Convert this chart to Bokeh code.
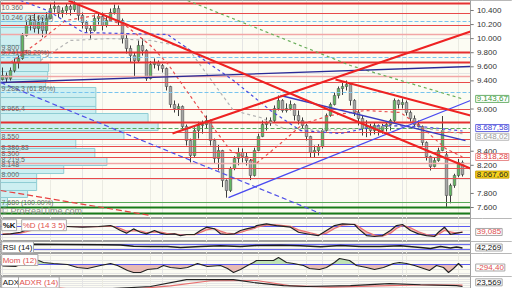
import numpy as np
from bokeh.plotting import figure
from bokeh.models import Range1d, FixedTicker, Label, Grid, ColumnDataSource
from bokeh.layouts import column
from bokeh.embed import file_html
from bokeh.resources import INLINE
from bokeh.core.properties import value

FONT = "Liberation Sans"

# ---------------- price data (daily candles, bar index 0..115) ----------------
opens = [9420, 9476, 9434, 9547, 9661, 9718, 10045, 10187, 10258, 10144,
         10229, 10116, 10286, 10428, 10457, 10372, 10400, 10457, 10414, 10485,
         10329, 10229, 10144, 10116, 10286, 10315, 10187, 10258, 10372, 10428,
         10258, 10002, 9860, 9760, 9689, 9903, 9831, 9434, 9633, 9661,
         9618, 9576, 9320, 9064, 9007, 9036, 8751, 8552, 8339, 8694,
         8766, 8780, 8837, 8552, 8296, 8410, 7984, 7842, 8154, 8296,
         8382, 8325, 8268, 8055, 8410, 8609, 8780, 8808, 8837, 9007,
         9121, 8979, 9007, 9064, 8908, 8837, 8766, 8609, 8382, 8410,
         8467, 8694, 8908, 9064, 9192, 9291, 9320, 9348, 9121, 8950,
         8865, 8723, 8751, 8694, 8766, 8694, 8751, 8780, 8837, 9121,
         9064, 9092, 8950, 8865, 8780, 8751, 8524, 8325, 8183, 8268,
         8410, 8350, 7771, 7913, 8055, 8239]
highs = [9590, 9519, 9590, 9718, 9760, 10080, 10258, 10329, 10357, 10329,
         10300, 10372, 10500, 10528, 10471, 10443, 10500, 10485, 10530, 10500,
         10372, 10258, 10187, 10343, 10357, 10372, 10329, 10428, 10485, 10471,
         10286, 10073, 9903, 9803, 9974, 10002, 9850, 9680, 9718, 9689,
         9640, 9590, 9330, 9121, 9078, 9050, 8780, 8580, 8740, 8820,
         8837, 8908, 8850, 8580, 8490, 8420, 8000, 8180, 8330, 8450,
         8440, 8380, 8290, 8450, 8650, 8837, 8880, 8880, 9050, 9192,
         9140, 9080, 9121, 9080, 8980, 8880, 8790, 8620, 8481, 8500,
         8720, 8936, 9092, 9235, 9320, 9377, 9405, 9350, 9140, 8990,
         8900, 8840, 8790, 8810, 8780, 8790, 8820, 8860, 9150, 9135,
         9150, 9121, 8979, 8908, 8837, 8766, 8540, 8339, 8310, 8450,
         8900, 8400, 7940, 8080, 8290, 8268]
lows = [9405, 9377, 9405, 9519, 9576, 9700, 10030, 10116, 10087, 10060,
        10020, 10060, 10280, 10372, 10300, 10300, 10343, 10329, 10380, 10258,
        10144, 10087, 10000, 10100, 10200, 10116, 10160, 10240, 10343, 10187,
        9931, 9789, 9661, 9450, 9660, 9760, 9400, 9420, 9576, 9547,
        9519, 9263, 9020, 8950, 8900, 8694, 8481, 8240, 8320, 8580,
        8650, 8720, 8481, 8225, 8126, 7890, 7740, 7820, 8130, 8200,
        8240, 8197, 7990, 8040, 8400, 8600, 8694, 8760, 8810, 8979,
        8950, 8950, 8980, 8837, 8780, 8720, 8552, 8310, 8310, 8339,
        8440, 8680, 8890, 9050, 9150, 9200, 9263, 9050, 8900, 8766,
        8623, 8600, 8623, 8640, 8623, 8650, 8680, 8694, 8800, 9007,
        9007, 8908, 8820, 8737, 8720, 8481, 8268, 8126, 8170, 8250,
        8400, 7610, 7660, 7880, 8030, 8040]
closes = [9476, 9434, 9547, 9661, 9718, 10045, 10187, 10258, 10144, 10229,
          10116, 10286, 10428, 10457, 10372, 10400, 10457, 10414, 10485, 10329,
          10229, 10144, 10116, 10286, 10315, 10187, 10258, 10372, 10428, 10258,
          10002, 9860, 9760, 9689, 9903, 9831, 9434, 9633, 9661, 9618,
          9576, 9320, 9064, 9007, 9036, 8751, 8552, 8339, 8694, 8766,
          8780, 8837, 8552, 8296, 8410, 7984, 7842, 8154, 8296, 8382,
          8325, 8268, 8055, 8410, 8609, 8780, 8808, 8837, 9007, 9121,
          8979, 9007, 9064, 8908, 8837, 8766, 8609, 8382, 8410, 8467,
          8694, 8908, 9064, 9192, 9291, 9320, 9348, 9121, 8950, 8865,
          8723, 8751, 8694, 8766, 8694, 8751, 8780, 8837, 9121, 9064,
          9092, 8950, 8865, 8780, 8751, 8524, 8325, 8183, 8268, 8410,
          8694, 7771, 7913, 8055, 8239, 8067.60]

# moving averages (bar index, price)
ma_red_x = [2, 9.5, 15.75, 23.25, 30.75, 37, 41.25, 49.5, 57, 63.75, 69.5, 75.25, 82, 90.75, 99.5, 105.75, 110.75, 115]
ma_red_y = [9661, 9974, 10258, 10329, 10187, 9903, 9647, 8979, 8410, 8240, 8510, 8794, 8908, 8979, 8950, 8694, 8439, 8318.28]
ma_gray_x = [9.5, 17, 27, 37, 46.25, 57.75, 64.5, 70.25, 79.5, 89.5, 99.5, 109.5, 115]
ma_gray_y = [9689, 9974, 10002, 9974, 9874, 8979, 8879, 8723, 8694, 8723, 8766, 8694, 8648.02]
ma_blue_x = [4.5, 11.25, 20.25, 41.25, 57.75, 67, 74.5, 84.5, 94.5, 104.5, 115]
ma_blue_y = [10542, 10400, 10087, 10059, 9405, 8979, 8694, 8652, 8766, 8751, 8687.58]
ma_green_x = [46.25, 87, 115]
ma_green_y = [10542, 9618, 9143.67]

# trend lines (bar index, price)
tl_red_down_x = [16.5, 39.5, 82, 117]
tl_red_down_y = [10542, 10002, 8979, 8154]
tl_red_up_x = [42.5, 117]
tl_red_up_y = [8652, 10102]
tl_red_down2_x = [83.25, 117]
tl_red_down2_y = [9419, 8908]
tl_navy_x = [-0.5, 117]
tl_navy_y = [9377, 9604]
tl_blue_up_x = [56.5, 117]
tl_blue_up_y = [7742, 9121]
tl_navy_down_x = [69.5, 115.75]
tl_navy_down_y = [9192, 8552]
tl_blue_dash_x = [-0.5, 79.5]
tl_blue_dash_y = [9377, 7515]
tl_red_dash_x = [-0.5, 37]
tl_red_dash_y = [7842, 7487]

# horizontal levels
levels_red_thick = [10504, 9807, 9661, 8808]
levels_red = [10353, 10187, 9377, 8986, 8670, 8571, 8471, 8386.83, 8315, 8159, 8008]
levels_pink = [10063, 9462, 8230]
levels_fibo = [10239, 9733, 9239]
levels_green_dash = [8727]
levels_green = [7675]
levels_green_thick = [7604, 7519]

# volume by price
vp_low = [10244, 10158, 10059, 9903, 9760, 9661, 9533, 9419, 9320, 9163, 9036, 8936, 8808, 8694, 8567, 8439, 8311, 8197, 8083, 7955, 7842, 7742, 7600]
vp_high = [10372, 10244, 10158, 10059, 9903, 9760, 9647, 9533, 9419, 9306, 9163, 9036, 8936, 8808, 8694, 8567, 8439, 8311, 8197, 8083, 7955, 7842, 7742]
vp_vol = [48, 43, 45, 20, 20, 40, 48, 47, 45, 95, 95, 95, 147, 157, 123, 75, 94, 106, 63, 36, 36, 27, 7]
vp_label_text = ["10.360", "10.246 (23.60%)", "9.800", "9.741 (38.20%)", "9.288,3 (61.80%)", "8.966,4",
                 "8.550", "8.386,83", "8.300", "8.219,5", "8.148", "8.000", "7.680 (100.00%)"]
vp_label_price = [10443, 10300, 9867, 9796, 9298, 9014, 8609, 8453, 8368, 8282, 8211, 8069, 7671]

price_ticks = [10400, 10200, 10000, 9800, 9600, 9400, 9000, 8400, 8200, 7800, 7600]
month_starts = [12, 25, 37, 51, 64, 76, 89, 101, 114]

# stochastic
stoch_x = [0, 2, 4.5, 7.75, 9.5, 14.5, 16, 20, 24, 27, 28, 29.5, 31, 32.75, 34.5, 36, 38, 39.5, 41, 43,
           44.5, 46, 48, 49.5, 51, 53, 54.5, 56, 58, 59.5, 61, 63, 63.5, 66, 68.5, 72, 74, 77, 79, 81,
           83, 85, 88, 89, 91, 93, 95, 97, 98.5, 100, 102, 104, 106, 108, 109, 110.5, 112, 113.5, 115]
stoch_k = [20, 25, 37, 75, 80, 80, 80, 75, 80, 87, 75, 50, 30, 62, 37, 25, 50, 30, 20, 25,
           12, 20, 20, 50, 75, 62, 25, 20, 25, 50, 62, 75, 87, 100, 87, 75, 37, 20, 12, 50,
           87, 100, 95, 62, 12, 5, 12, 50, 87, 95, 50, 25, 12, 5, 37, 75, 20, 30, 37]
stoch_d = [25, 24, 30, 55, 72, 80, 80, 78, 78, 82, 80, 65, 45, 48, 45, 35, 40, 38, 28, 24,
           18, 18, 18, 35, 55, 65, 45, 30, 24, 35, 50, 65, 75, 90, 92, 82, 55, 32, 18, 30,
           65, 90, 97, 80, 40, 15, 8, 30, 65, 88, 70, 40, 20, 10, 22, 50, 40, 30, 39.085]
stoch_bands = [80, 20]

# RSI
rsi_x = [0, 7.75, 14.5, 24.5, 29.5, 32.75, 37, 41.25, 44.5, 49.5, 54.5, 59.5, 63.5, 69.5, 74.5,
         79.5, 84.5, 89.5, 94.5, 99.5, 104.5, 107, 109.5, 112, 113.5, 115]
rsi_v = [70, 72, 70, 68, 66, 56, 54, 54, 46, 54, 60, 54, 62, 64, 60,
         52, 62, 54, 54, 60, 46, 38, 54, 42, 50, 42.269]
rsi_bands = [70, 30]

# Momentum
mom_x = [0, 3.25, 7.75, 10.25, 12.75, 16.25, 18.75, 21.25, 24.5, 27, 28.75, 31.25, 32.75, 34.5, 36.25,
         38.75, 40.25, 42, 44.5, 46.25, 48.75, 51.25, 54.5, 56.25, 57.75, 59.5, 61.25, 62.75, 63.5, 66,
         67.75, 69, 71, 72.75, 75.25, 76.75, 79.25, 81, 83, 84.25, 86.75, 88.5, 91, 93, 95.25,
         97.75, 99.25, 101, 103, 105.25, 106.75, 108.5, 110.25, 111.5, 112.75, 114, 115]
mom_v = [-131, -185, 687, 251, 142, 33, -294, -403, -76, 142, -76, -621, -839, -839, -512,
         -403, -76, -294, -403, -294, 142, -185, -76, -403, -839, -512, -76, 251, 469, 469,
         469, 796, 251, 142, -76, -403, -512, -294, 251, 687, 469, -76, -294, -512, -294,
         142, 251, 142, -76, -403, -621, -76, -294, -839, -403, 142, -294.40]

# ADX / ADXR
adx_x = [0, 25, 37, 46, 57.75, 62.75, 70.25, 76, 87, 96.75, 104.5, 113.5, 115]
adx_v = [17, 17, 23.6, 41, 41, 33.6, 26, 23.6, 26, 31, 28, 26, 23.569]
adxr_x = [0, 7.75, 16.25, 29.5, 42, 52, 63.5, 71.75, 82, 96.75, 107, 115]
adxr_v = [28, 26, 18, 15, 25, 38, 38.6, 26, 22, 26, 28, 27]


def eu(v, dec):
    s = f"{v:,.{dec}f}"
    return s.replace(",", "X").replace(".", ",").replace("X", ".")


BG = "#fcfcf3"
GRID = "#ebebe2"
X_END_PLOT = 117      # right edge of the chart area (bar units)
X_END = 127.5         # right edge including the price scale strip
LX = 118.3            # where value boxes start
x_range = Range1d(-0.5, X_END)


def panel(h, yr):
    f = figure(width=512, height=h, x_range=x_range, y_range=yr, output_backend="svg",
               toolbar_location=None, x_axis_location=None, y_axis_location=None,
               min_border_left=0, min_border_right=0, min_border_top=0, min_border_bottom=0,
               background_fill_color=BG, border_fill_color="white", outline_line_color="#a0a0a0")
    f.add_layout(Grid(dimension=0, ticker=FixedTicker(ticks=month_starts), grid_line_color=GRID))
    return f


def scale_strip(f, yr):
    f.quad(left=X_END_PLOT, right=X_END, bottom=yr.start, top=yr.end,
           fill_color="white", line_color=None)
    f.vspan(x=[X_END_PLOT], line_color="#a0a0a0", line_width=1)


def box_label(f, x, y, text, color, border, bg="white", baseline="middle", size="8px",
              weight="normal", y_offset=0):
    f.add_layout(Label(x=x, y=y, y_offset=y_offset, text=text, text_color=color, text_font=FONT,
                       text_font_size=size, text_font_style=weight, text_baseline=baseline,
                       text_align="left", background_fill_color=bg, border_line_color=border,
                       padding=1))


# ---------------- main price panel ----------------
yr_main = Range1d(7444, 10542)
p = panel(218, yr_main)
p.extra_x_ranges = {"vp": Range1d(0, 510)}

p.quad(left=0, right=vp_vol, bottom=vp_low, top=vp_high, x_range_name="vp",
       fill_color="#cdeff1", line_color="#8fcdd4", line_width=1)

src = ColumnDataSource(dict(
    x=list(range(len(closes))), o=opens, h=highs, l=lows, c=closes,
    top=[max(a, b) for a, b in zip(opens, closes)],
    bottom=[min(a, b) for a, b in zip(opens, closes)],
    color=["#62b862" if c >= o else "#a6a6a6" for o, c in zip(opens, closes)]))
p.segment(x0="x", y0="h", x1="x", y1="l", source=src, line_color="#3c3c3c", line_width=1)
p.vbar(x="x", width=0.62, top="top", bottom="bottom", source=src,
       fill_color="color", line_color="#505050", line_width=0.6)

p.hspan(y=levels_pink, line_color="#f2a6a6", line_width=1.5)
p.hspan(y=levels_red, line_color="#e84a4a", line_width=1.2)
p.hspan(y=levels_red_thick, line_color="#e53030", line_width=2)
p.hspan(y=levels_fibo, line_color="#78c4ee", line_width=1.2, line_dash="4 2")
p.hspan(y=levels_green_dash, line_color="#58a858", line_width=1.2, line_dash="4 2")
p.hspan(y=levels_green, line_color="#5aaa5a", line_width=1.2)
p.hspan(y=levels_green_thick, line_color="#1a7a1a", line_width=2)

p.line(ma_red_x, ma_red_y, line_color="#e85050", line_width=1.2, line_dash="3 3")
p.line(ma_gray_x, ma_gray_y, line_color="#b4b4b4", line_width=1.2, line_dash="3 3")
p.line(ma_blue_x, ma_blue_y, line_color="#4a4ae0", line_width=1.2, line_dash="3 3")
p.line(ma_green_x, ma_green_y, line_color="#6aae5a", line_width=1.2, line_dash="3 3")

p.line(tl_navy_x, tl_navy_y, line_color="#2a2a96", line_width=1.3)
p.line(tl_navy_down_x, tl_navy_down_y, line_color="#3a3ac0", line_width=1.3)
p.line(tl_blue_up_x, tl_blue_up_y, line_color="#4a4af0", line_width=1.3)
p.line(tl_blue_dash_x, tl_blue_dash_y, line_color="#5050e8", line_width=1.2, line_dash="5 3")
p.line(tl_red_dash_x, tl_red_dash_y, line_color="#e84040", line_width=1.2, line_dash="6 3")
p.line(tl_red_down_x, tl_red_down_y, line_color="#ee2222", line_width=2)
p.line(tl_red_up_x, tl_red_up_y, line_color="#ee2222", line_width=2)
p.line(tl_red_down2_x, tl_red_down2_y, line_color="#ee2222", line_width=2)

p.text(x=[1] * len(vp_label_text), y=vp_label_price, text=vp_label_text, x_range_name="vp",
       text_font=value(FONT), text_font_size="7px", text_color="#666666", text_baseline="middle")

p.add_layout(Label(x=-0.3, y=7545, text="\u00a9 ProRealTime.com", text_color="#8a8a8a",
                   text_font=FONT, text_font_size="9px", text_baseline="middle"))

# price scale
scale_strip(p, yr_main)
p.segment(x0=[X_END_PLOT] * len(price_ticks), x1=[X_END_PLOT + 0.8] * len(price_ticks),
          y0=price_ticks, y1=price_ticks, line_color="#777777", line_width=1)
p.text(x=[X_END_PLOT + 1.6] * len(price_ticks), y=price_ticks, text=[eu(t, 0) for t in price_ticks],
       text_font=value(FONT), text_font_size="8px", text_color="#333333", text_baseline="middle")

box_label(p, LX, ma_green_y[-1], eu(ma_green_y[-1], 2), "#3c9a3c", "#6ab06a")
box_label(p, LX, ma_blue_y[-1], eu(ma_blue_y[-1], 2), "#3a3ad8", "#6a6ae0", y_offset=3)
box_label(p, LX, ma_gray_y[-1], eu(ma_gray_y[-1], 2), "#9a9a9a", "#b8b8b8", y_offset=-3)
box_label(p, LX, ma_red_y[-1], eu(ma_red_y[-1], 2), "#e03838", "#e88a8a")
box_label(p, LX, closes[-1], eu(closes[-1], 2), "#222222", "#c8a000", bg="#f6d21c")

# ---------------- stochastic ----------------
yr_s = Range1d(-32.5, 140)
s = panel(23, yr_s)
s.varea(x=stoch_x, y1=stoch_k, y2=stoch_d, fill_color="#f0a8a8", fill_alpha=0.8)
s.hspan(y=stoch_bands, line_color="#5b5bf0", line_width=1.2)
s.line(stoch_x, stoch_d, line_color="#e87070", line_width=1.2)
s.line(stoch_x, stoch_k, line_color="#222222", line_width=1.2)
scale_strip(s, yr_s)
box_label(s, -0.2, 131, "%K", "#111111", "#a8a8a8", baseline="top", weight="bold")
box_label(s, 4.8, 131, "%D (14 3 5)", "#e05050", "#a8a8a8", baseline="top")
box_label(s, LX, stoch_d[-1], eu(stoch_d[-1], 3), "#e05050", "#a8a8a8")

# ---------------- RSI ----------------
yr_r = Range1d(-2, 94)
r = panel(12, yr_r)
r.hspan(y=rsi_bands, line_color="#6a6af0", line_width=1.1)
r.line(rsi_x, rsi_v, line_color="#1a1a1a", line_width=1.6)
scale_strip(r, yr_r)
box_label(r, -0.2, 92, "RSI (14)", "#111111", "#a8a8a8", baseline="top")
box_label(r, LX, 46, eu(rsi_v[-1], 3), "#111111", "#a8a8a8")

# ---------------- Momentum ----------------
yr_m = Range1d(-1275, 1232)
m = panel(23, yr_m)
mv = np.array(mom_v, dtype=float)
m.varea(x=mom_x, y1=0, y2=np.maximum(mv, 0), fill_color="#b8dfae", fill_alpha=0.9)
m.varea(x=mom_x, y1=0, y2=np.minimum(mv, 0), fill_color="#e6b2ae", fill_alpha=0.9)
m.hspan(y=[0], line_color="#5b5bf0", line_width=1.2)
m.line(mom_x, mom_v, line_color="#222222", line_width=1.1)
scale_strip(m, yr_m)
box_label(m, -0.2, 1120, "Mom (12)", "#e05050", "#a8a8a8", baseline="top")
box_label(m, LX, mom_v[-1], eu(mom_v[-1], 2), "#e05050", "#a8a8a8")

# ---------------- ADX ----------------
yr_a = Range1d(18.6, 48.6)
a = panel(12, yr_a)
a.line(adxr_x, adxr_v, line_color="#e87070", line_width=1.2)
a.line(adx_x, adx_v, line_color="#222222", line_width=1.2)
scale_strip(a, yr_a)
box_label(a, -0.2, 47.5, "ADX", "#111111", "#a8a8a8", baseline="top")
box_label(a, 4.0, 47.5, "ADXR (14)", "#e05050", "#a8a8a8", baseline="top")
box_label(a, LX, 34, eu(adx_v[-1], 3), "#111111", "#a8a8a8")

layout = column(p, s, r, m, a, spacing=0)
open("out.html", "w").write(file_html(layout, INLINE))
